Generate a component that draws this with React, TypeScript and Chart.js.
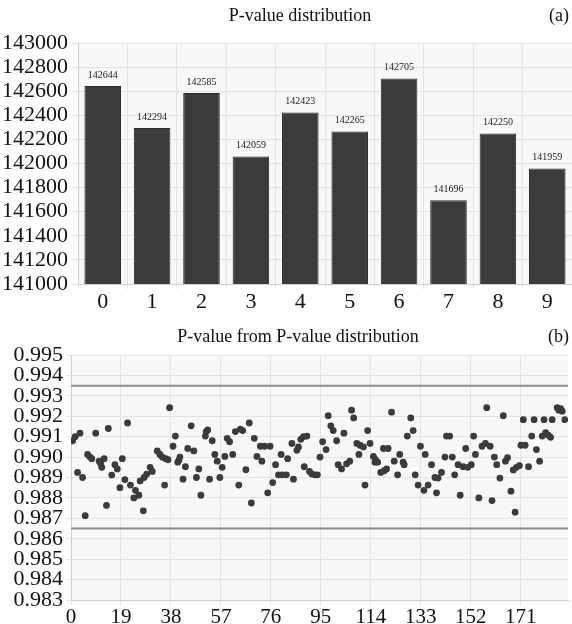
import React, { useEffect, useRef } from 'react';
import { Chart, registerables } from 'chart.js';
Chart.register(...registerables);

// ---------- Panel (a) data ----------
const barCategories = ['0', '1', '2', '3', '4', '5', '6', '7', '8', '9'];
const barValues = [142644, 142294, 142585, 142059, 142423, 142265, 142705, 141696, 142250, 141959];
const barYTicks = [141000, 141200, 141400, 141600, 141800, 142000, 142200, 142400, 142600, 142800, 143000];

// ---------- Panel (b) data ----------
const pValueX = [
  0.6, 1.6, 2.5, 3.4, 4.4, 5.4, 6.3, 7.2, 7.9, 9.4, 10.7, 11.3, 11.7, 12.6, 13.5, 14.2, 15.5, 16.7, 17.6, 18.6,
  19.5, 20.5, 21.5, 22.6, 23.9, 24.5, 25.8, 26.3, 27.5, 27.8, 28.8, 30.1, 30.9, 32.8, 33.8, 34.7, 35.6, 36.0, 36.9, 37.5,
  38.8, 39.7, 40.6, 41.0, 41.4, 42.6, 43.5, 44.4, 45.7, 46.7, 47.7, 48.6, 49.4, 51.1, 51.4, 52.0, 52.7, 53.7, 54.7, 55.6,
  56.6, 57.5, 58.5, 59.4, 60.3, 61.5, 62.5, 63.8, 64.4, 65.3, 66.5, 67.8, 68.6, 69.7, 70.7, 72.0, 72.6, 73.6, 74.8, 75.7,
  76.7, 77.8, 78.9, 79.9, 80.3, 81.9, 82.4, 84.0, 84.6, 85.9, 86.5, 87.4, 88.4, 88.7, 89.7, 90.7, 91.6, 92.8, 93.7, 94.7,
  95.7, 97.0, 97.8, 98.8, 99.7, 101.0, 101.6, 102.9, 103.8, 104.8, 106.0, 106.7, 107.5, 108.7, 109.5, 109.9, 111.2, 111.8, 112.8, 113.7,
  115.0, 115.6, 115.8, 116.6, 117.8, 118.8, 119.1, 120.0, 120.6, 121.9, 122.9, 124.2, 125.0, 126.3, 126.7, 127.9, 129.2, 130.1, 130.9, 132.0,
  132.9, 134.2, 134.7, 135.8, 137.1, 138.4, 139.0, 139.6, 140.9, 142.2, 142.8, 144.0, 145.0, 145.9, 147.2, 148.0, 149.1, 150.1, 150.9, 152.2,
  153.1, 153.8, 155.1, 156.3, 157.6, 158.1, 159.4, 160.1, 161.0, 161.9, 163.1, 164.4, 165.2, 166.0, 167.3, 168.2, 168.9, 169.4, 170.5, 171.1,
  172.0, 172.7, 174.0, 175.2, 176.1, 177.0, 178.2, 179.2, 179.9, 180.5, 181.5, 182.4, 183.0, 184.9, 185.5, 186.2, 186.8, 187.8,
];
const pValueY = [
  0.9908, 0.9910, 0.98925, 0.99117, 0.989, 0.98713, 0.99013, 0.990, 0.98992, 0.99117, 0.9898, 0.98967, 0.9895, 0.98992, 0.98763, 0.9914, 0.98912, 0.98963, 0.98942, 0.9885,
  0.98992, 0.9889, 0.99167, 0.98863, 0.988, 0.98837, 0.98813, 0.98883, 0.98737, 0.989, 0.98917, 0.9895, 0.9893, 0.9903, 0.99013, 0.990, 0.98863, 0.98992, 0.98987, 0.99242,
  0.99053, 0.99103, 0.98975, 0.98983, 0.990, 0.98892, 0.98953, 0.99042, 0.99153, 0.9903, 0.989, 0.98942, 0.98813, 0.99103, 0.99125, 0.99133, 0.98892, 0.9908, 0.99013, 0.9898,
  0.989, 0.9895, 0.99003, 0.99092, 0.99075, 0.99013, 0.99125, 0.98863, 0.99137, 0.9913, 0.98938, 0.99167, 0.98775, 0.99092, 0.99003, 0.99053, 0.9898, 0.99053, 0.98825, 0.99053,
  0.98875, 0.98963, 0.98913, 0.99013, 0.98913, 0.98913, 0.98992, 0.99067, 0.98892, 0.99033, 0.9905, 0.99087, 0.991, 0.98953, 0.99103, 0.9893, 0.98917, 0.98913, 0.98913, 0.990,
  0.99075, 0.99037, 0.99203, 0.99153, 0.9913, 0.9908, 0.98963, 0.98942, 0.99117, 0.98967, 0.9898, 0.9923, 0.99192, 0.99067, 0.99013, 0.99058, 0.9905, 0.98863, 0.9913, 0.99067,
  0.99003, 0.98975, 0.98987, 0.98975, 0.98925, 0.99042, 0.98933, 0.98942, 0.99042, 0.9922, 0.9898, 0.98913, 0.99013, 0.98975, 0.98963, 0.99103, 0.99192, 0.9913, 0.98913, 0.98863,
  0.99053, 0.98837, 0.99013, 0.98863, 0.98963, 0.989, 0.98825, 0.98897, 0.98925, 0.990, 0.99103, 0.99103, 0.990, 0.98913, 0.98963, 0.98813, 0.98953, 0.99042, 0.9895, 0.98963,
  0.99103, 0.99013, 0.988, 0.99053, 0.99067, 0.99242, 0.99053, 0.98787, 0.990, 0.98963, 0.98897, 0.99203, 0.9898, 0.98997, 0.98833, 0.98937, 0.9873, 0.9895, 0.98958, 0.99058,
  0.99183, 0.99058, 0.98953, 0.99103, 0.99183, 0.99037, 0.9898, 0.99103, 0.99183, 0.9912, 0.99108, 0.99097, 0.99183, 0.99242, 0.9923, 0.99237, 0.99225, 0.99183,
];
const limitUpper = 0.9935;
const limitLower = 0.9865;
const scatterXMin = 0;
const scatterXMax = 189;
const scatterXTicks = [0, 19, 38, 57, 76, 95, 114, 133, 152, 171];
const scatterYTicks = [0.983, 0.984, 0.985, 0.986, 0.987, 0.988, 0.989, 0.99, 0.991, 0.992, 0.993, 0.994, 0.995];

const FONT = "'Liberation Serif', 'Times New Roman', serif";
const GRID = '#e4e4e4';
const PLOT_BG = '#f8f8f8';
const MARK = '#3b3b3b';

const plotBg = {
  id: 'plotBg',
  beforeDraw(chart: any) {
    const { ctx, chartArea: a } = chart;
    ctx.save();
    ctx.fillStyle = PLOT_BG;
    ctx.fillRect(a.left, a.top, a.right - a.left, a.bottom - a.top);
    ctx.restore();
  },
};

function headerPlugin(title: string, tag: string, titleX: number, titleY: number) {
  return {
    id: 'header',
    afterDraw(chart: any) {
      const { ctx } = chart;
      ctx.save();
      ctx.fillStyle = '#111';
      ctx.font = `18px ${FONT}`;
      ctx.textBaseline = 'middle';
      ctx.textAlign = 'center';
      ctx.fillText(title, titleX, titleY);
      ctx.textAlign = 'right';
      ctx.fillText(tag, 569, titleY);
      ctx.restore();
    },
  };
}

const barValueLabels = {
  id: 'barValueLabels',
  afterDatasetsDraw(chart: any) {
    const { ctx } = chart;
    const meta = chart.getDatasetMeta(0);
    ctx.save();
    ctx.fillStyle = '#222';
    ctx.font = `10px ${FONT}`;
    ctx.textAlign = 'center';
    ctx.textBaseline = 'bottom';
    meta.data.forEach((el: any, i: number) => {
      ctx.fillText(String(barValues[i]), el.x, el.y - 6);
    });
    ctx.restore();
  },
};

function BarPanel() {
  const ref = useRef<HTMLCanvasElement>(null);
  useEffect(() => {
    const chart = new Chart(ref.current!, {
      type: 'bar',
      data: {
        labels: barCategories,
        datasets: [{
          data: barValues,
          backgroundColor: MARK,
          borderColor: '#2a2a2a',
          borderWidth: 1,
          barPercentage: 0.74,
          categoryPercentage: 1,
        }],
      },
      options: {
        animation: false,
        responsive: false,
        layout: { padding: { top: 43, right: 0, bottom: 0, left: 0 } },
        plugins: { legend: { display: false }, tooltip: { enabled: false }, title: { display: false } },
        scales: {
          x: {
            grid: { color: GRID, offset: true, tickLength: 5 },
            border: { color: '#cfcfcf' },
            ticks: { font: { family: FONT, size: 22 }, color: '#111', padding: 0, autoSkip: false, maxRotation: 0 },
            afterFit: (s: any) => { s.height = 31; },
          },
          y: {
            min: 141000,
            max: 143000,
            afterBuildTicks: (s: any) => { s.ticks = barYTicks.map((v) => ({ value: v })); },
            grid: { color: GRID, tickLength: 6 },
            border: { color: '#cfcfcf' },
            ticks: { font: { family: FONT, size: 22 }, color: '#111', padding: 4, autoSkip: false, callback: (v: any) => String(v) },
            afterFit: (s: any) => { s.width = 78; },
          },
        },
      },
      plugins: [plotBg, barValueLabels, headerPlugin('P-value distribution', '(a)', 300, 16)],
    } as any);
    return () => chart.destroy();
  }, []);
  return <canvas ref={ref} width={572} height={315} style={{ position: 'absolute', left: 0, top: 0 }} />;
}

function ScatterPanel() {
  const ref = useRef<HTMLCanvasElement>(null);
  useEffect(() => {
    const points = pValueX.map((x, i) => ({ x, y: pValueY[i] }));
    const chart = new Chart(ref.current!, {
      type: 'scatter',
      data: {
        datasets: [
          {
            data: [{ x: scatterXMin, y: limitUpper }, { x: scatterXMax, y: limitUpper }],
            showLine: true, borderColor: '#8e8e8e', borderWidth: 2, pointRadius: 0,
          },
          {
            data: [{ x: scatterXMin, y: limitLower }, { x: scatterXMax, y: limitLower }],
            showLine: true, borderColor: '#8e8e8e', borderWidth: 2, pointRadius: 0,
          },
          {
            data: points,
            backgroundColor: MARK, borderColor: MARK, pointRadius: 3.4, borderWidth: 0,
          },
        ],
      },
      options: {
        animation: false,
        responsive: false,
        layout: { padding: { top: 33, right: 0, bottom: 0, left: 0 } },
        plugins: { legend: { display: false }, tooltip: { enabled: false }, title: { display: false } },
        scales: {
          x: {
            type: 'linear',
            min: scatterXMin,
            max: scatterXMax,
            afterBuildTicks: (s: any) => { s.ticks = scatterXTicks.map((v) => ({ value: v })); },
            grid: { color: GRID, tickLength: 5 },
            border: { color: '#cfcfcf' },
            ticks: { font: { family: FONT, size: 21 }, color: '#111', padding: 0, autoSkip: false, maxRotation: 0, callback: (v: any) => String(v) },
            afterFit: (s: any) => { s.height = 24; },
          },
          y: {
            min: 0.983,
            max: 0.995,
            afterBuildTicks: (s: any) => { s.ticks = scatterYTicks.map((v) => ({ value: v })); },
            grid: { color: GRID, tickLength: 5 },
            border: { color: '#cfcfcf' },
            ticks: { font: { family: FONT, size: 22 }, color: '#111', padding: 3, autoSkip: false, callback: (v: any) => Number(v).toFixed(3) },
            afterFit: (s: any) => { s.width = 71; },
          },
        },
      },
      plugins: [plotBg, headerPlugin('P-value from P-value distribution', '(b)', 298, 15)],
    } as any);
    return () => chart.destroy();
  }, []);
  return <canvas ref={ref} width={572} height={302} style={{ position: 'absolute', left: 0, top: 322 }} />;
}

export default function App() {
  return (
    <div style={{ position: 'absolute', left: 0, top: 0, width: 572, height: 624, background: '#fff', overflow: 'hidden' }}>
      <BarPanel />
      <ScatterPanel />
    </div>
  );
}
